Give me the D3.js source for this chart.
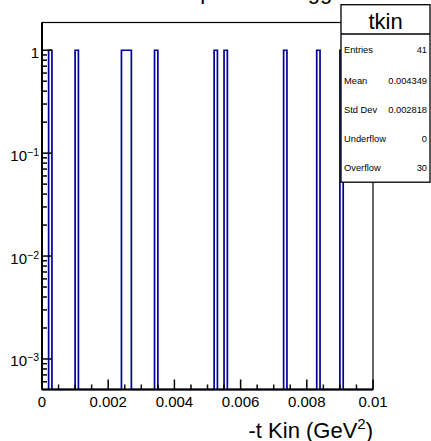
<!DOCTYPE html>
<html><head><meta charset="utf-8">
<script src="https://cdn.jsdelivr.net/npm/d3@7"></script>
<style>body{margin:0;background:#fff}svg{display:block}text{font-family:"Liberation Sans",Arial,sans-serif}</style>
</head><body>
<svg id="c" width="431" height="441"></svg>
<script>
// Histogram: 100 bins over [0, 0.01]
const xDomain = [0, 0.01];
const binWidth = 0.0001;
const filledBinLow = [0.0002, 0.0010, 0.0024, 0.0025, 0.0026, 0.0034, 0.0052, 0.0055, 0.0073, 0.0083, 0.0090];
const filledBinCount = [1, 1, 1, 1, 1, 1, 1, 1, 1, 1, 1];
const yDomain = [5.05e-4, 1.86];
const xTickValues = [0, 0.002, 0.004, 0.006, 0.008, 0.01];
const xTickLabels = ["0", "0.002", "0.004", "0.006", "0.008", "0.01"];
const yTickValues = [1, 0.1, 0.01, 0.001];
const yTickBase = ["1", "10", "10", "10"];
const yTickExp = ["", "\u22121", "\u22122", "\u22123"];
const statNames = ["Entries", "Mean", "Std Dev", "Underflow", "Overflow"];
const statValues = ["41", "0.004349", "0.002818", "0", "30"];
const histName = "tkin";
const titleText = "-t Kin for p events tagged";
const xTitle = "-t Kin (GeV";

const svg = d3.select("#c");
const L = 42, R = 373, T = 22.5, B = 389.5;
const x = d3.scaleLinear().domain(xDomain).range([L, R]);
const y = d3.scaleLog().domain(yDomain).range([B, T]);

// title (mostly above the visible area, as in the reference)
svg.append("text").attr("x", 111).attr("y", -1.5).attr("text-anchor", "start")
  .attr("font-size", 22).text(titleText);

// histogram outline
const nb = Math.round((xDomain[1] - xDomain[0]) / binWidth);
const contents = new Array(nb).fill(0);
filledBinLow.forEach((lo, i) => { contents[Math.round(lo / binWidth)] += filledBinCount[i]; });
let p = d3.path();
p.moveTo(x(0), B);
contents.forEach((c, i) => {
  const yy = c > 0 ? y(c) : B;
  p.lineTo(x(i * binWidth), yy);
  p.lineTo(x((i + 1) * binWidth), yy);
});
p.lineTo(x(xDomain[1]), B);
svg.append("path").attr("d", p.toString()).attr("fill", "none")
  .attr("stroke", "#00009a").attr("stroke-width", 1.7);

// frame
svg.append("rect").attr("x", L).attr("y", T).attr("width", R - L).attr("height", B - T)
  .attr("fill", "none").attr("stroke", "#000").attr("stroke-width", 1.2);
svg.append("line").attr("x1", L).attr("x2", R).attr("y1", B).attr("y2", B).attr("stroke", "#000").attr("stroke-width", 2);
svg.append("line").attr("x1", L).attr("x2", L).attr("y1", T).attr("y2", B).attr("stroke", "#000").attr("stroke-width", 2);

// x ticks
const xMinor = d3.range(0, 21).map(i => i * 0.0005);
svg.append("g").selectAll("line").data(xMinor).join("line")
  .attr("x1", d => x(d)).attr("x2", d => x(d))
  .attr("y1", B).attr("y2", (d, i) => i % 4 === 0 ? B - 10 : B - 5)
  .attr("stroke", "#000").attr("stroke-width", 1.5);
svg.append("g").selectAll("text").data(xTickValues).join("text")
  .attr("x", d => x(d)).attr("y", 406.5).attr("text-anchor", "middle")
  .attr("font-size", 15).text((d, i) => xTickLabels[i]);

// y ticks
const yMinor = [];
[-4, -3, -2, -1, 0].forEach(e => { for (let k = 1; k <= 9; k++) { const v = k * Math.pow(10, e); if (v >= yDomain[0] && v <= yDomain[1]) yMinor.push({ v, major: k === 1 }); } });
svg.append("g").selectAll("line").data(yMinor).join("line")
  .attr("x1", L).attr("x2", d => d.major ? L + 10 : L + 5)
  .attr("y1", d => y(d.v)).attr("y2", d => y(d.v))
  .attr("stroke", "#000").attr("stroke-width", 1.5);
const yl = svg.append("g").selectAll("text").data(yTickValues).join("text")
  .attr("x", 39).attr("y", d => y(d) + 7.5).attr("text-anchor", "end").attr("font-size", 15);
yl.each(function (d, i) {
  const t = d3.select(this);
  t.append("tspan").text(yTickBase[i]);
  if (yTickExp[i]) t.append("tspan").attr("dy", -5).attr("font-size", 10.5).text(yTickExp[i]);
});

// x title
const xt = svg.append("text").attr("x", R).attr("y", 437.5).attr("text-anchor", "end").attr("font-size", 22);
xt.append("tspan").text(xTitle);
xt.append("tspan").attr("dy", -9).attr("font-size", 15).text("2");
xt.append("tspan").attr("dy", 9).text(")");

// stats box
const SB = { x: 341, y: 4.7, w: 89, h: 177.5, head: 29.3 };
svg.append("rect").attr("x", SB.x).attr("y", SB.y).attr("width", SB.w).attr("height", SB.h)
  .attr("fill", "#fff").attr("stroke", "#000").attr("stroke-width", 1.3);
svg.append("line").attr("x1", SB.x).attr("x2", SB.x + SB.w).attr("y1", SB.y + SB.head).attr("y2", SB.y + SB.head)
  .attr("stroke", "#000").attr("stroke-width", 1.3);
svg.append("text").attr("x", SB.x + SB.w / 2).attr("y", 29).attr("text-anchor", "middle")
  .attr("font-size", 22).text(histName);
const rowY = [50, 80.5, 110, 139, 168];
statNames.forEach((n, i) => {
  const yy = rowY[i] + 3.3;
  svg.append("text").attr("x", SB.x + 3).attr("y", yy).attr("font-size", 9.3).attr("fill", "#000").text(n);
  svg.append("text").attr("x", SB.x + SB.w - 3).attr("y", yy).attr("text-anchor", "end").attr("font-size", 9.3).attr("fill", "#000").text(statValues[i]);
});
</script>
</body></html>
